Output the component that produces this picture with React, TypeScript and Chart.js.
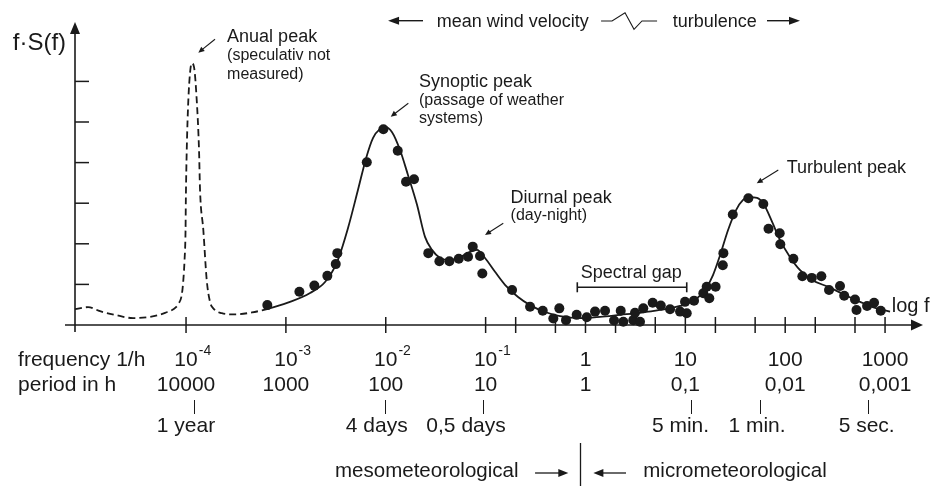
import React, { useEffect, useRef } from "react";
import { Chart, registerables } from "chart.js";

Chart.register(...registerables);

// ---------- data (x = log10 of frequency in 1/h, y = f·S(f) in tick units) ----------
const dashedLogF = [-5.112, -4.981, -4.861, -4.711, -4.531, -4.361, -4.21, -4.1, -4.077, -4.043, -4.027, -4.015, -4.005, -4.002, -3.993, -3.977, -3.96, -3.943, -3.92, -3.893, -3.87, -3.86, -3.827, -3.793, -3.76, -3.727, -3.642, -3.509, -3.339, -3.189];
const dashedLevel = [0.39, 0.44, 0.34, 0.25, 0.17, 0.2, 0.3, 0.44, 0.52, 0.74, 1.11, 1.6, 2.34, 3.08, 4.31, 5.54, 6.21, 6.45, 6.35, 5.54, 4.31, 3.33, 2.34, 1.11, 0.57, 0.41, 0.29, 0.26, 0.31, 0.39];

const fitLogF = [-3.189, -2.959, -2.758, -2.608, -2.488, -2.378, -2.278, -2.197, -2.127, -2.057, -2.007, -1.937, -1.857, -1.777, -1.687, -1.607, -1.537, -1.456, -1.356, -1.256, -1.156, -1.086, -1.006, -0.906, -0.806, -0.675, -0.555, -0.405, -0.255, -0.054, 0.146, 0.346, 0.546, 0.746, 0.947, 1.097, 1.197, 1.277, 1.348, 1.428, 1.508, 1.578, 1.638, 1.718, 1.788, 1.869, 1.949, 2.049, 2.149, 2.269, 2.429, 2.599, 2.75, 2.9, 3.05];
const fitLevel = [0.39, 0.57, 0.79, 1.06, 1.55, 2.39, 3.33, 4.11, 4.61, 4.83, 4.88, 4.75, 4.31, 3.69, 2.96, 2.17, 1.85, 1.65, 1.6, 1.67, 1.8, 1.85, 1.65, 1.31, 0.99, 0.69, 0.49, 0.32, 0.22, 0.17, 0.2, 0.25, 0.3, 0.37, 0.47, 0.62, 0.86, 1.23, 1.72, 2.34, 2.83, 3.08, 3.15, 3.13, 2.96, 2.54, 2.09, 1.67, 1.35, 1.11, 0.94, 0.74, 0.57, 0.42, 0.33];

const measuredLogF = [-3.186, -2.865, -2.715, -2.585, -2.501, -2.485, -2.19, -2.024, -1.88, -1.797, -1.717, -1.574, -1.463, -1.363, -1.269, -1.176, -1.129, -1.056, -1.033, -0.735, -0.555, -0.428, -0.322, -0.262, -0.195, -0.088, 0.013, 0.096, 0.196, 0.286, 0.353, 0.379, 0.479, 0.496, 0.546, 0.579, 0.673, 0.754, 0.847, 0.947, 0.997, 1.014, 1.087, 1.18, 1.214, 1.24, 1.303, 1.375, 1.381, 1.475, 1.631, 1.781, 1.833, 1.945, 1.951, 2.082, 2.172, 2.266, 2.362, 2.439, 2.549, 2.591, 2.699, 2.714, 2.82, 2.89, 2.957];
const measuredLevel = [0.49, 0.82, 0.97, 1.21, 1.5, 1.77, 4.01, 4.82, 4.29, 3.53, 3.59, 1.77, 1.57, 1.57, 1.63, 1.68, 1.93, 1.7, 1.27, 0.86, 0.45, 0.35, 0.16, 0.41, 0.12, 0.25, 0.19, 0.33, 0.35, 0.11, 0.35, 0.08, 0.12, 0.3, 0.08, 0.41, 0.55, 0.48, 0.39, 0.33, 0.57, 0.29, 0.6, 0.78, 0.94, 0.66, 0.94, 1.47, 1.77, 2.72, 3.12, 2.98, 2.37, 2.26, 1.99, 1.63, 1.2, 1.16, 1.2, 0.86, 0.96, 0.72, 0.63, 0.37, 0.47, 0.55, 0.35];

// ---------- axes / tick labels ----------
const X_MIN = -5.112;
const X_MAX = 3.38;
const Y_MAX = 7.463;
const xTickLogF = [-4, -3, -2, -1, -0.699, -0.301, 0, 0.301, 0.699, 1, 1.301, 1.699, 2, 2.301, 2.699, 3];
const yTickLevels = [1, 2, 3, 4, 5, 6];
const decadeLogF = [-4, -3, -2, -1, 0, 1, 2, 3];
const freqBase = ["10", "10", "10", "10", "1", "10", "100", "1000"];
const freqExp = ["-4", "-3", "-2", "-1", "", "", "", ""];
const periodLabels = ["10000", "1000", "100", "10", "1", "0,1", "0,01", "0,001"];
const markerTickLogF = [-3.917, -2.007, -1.029, 1.054, 1.748, 2.833];
const markerLabelLogF = [-4.0, -2.09, -1.196, 0.952, 1.718, 2.816];
const markerLabels = ["1 year", "4 days", "0,5 days", "5 min.", "1 min.", "5 sec."];

const INK = "#1a1a1a";
const FONT = '"Liberation Sans", Arial, Helvetica, sans-serif';

const notes = [
  { x: -3.589, y: 6.978, title: "Anual peak", sub: ["(speculativ not", "measured)"], gap: 18.5, arrow: [-3.71, 7.037, -3.877, 6.707] },
  { x: -1.667, y: 5.87, title: "Synoptic peak", sub: ["(passage of weather", "systems)"], gap: 18.2, arrow: [-1.774, 5.461, -1.95, 5.131] },
  { x: -0.75, y: 3.005, title: "Diurnal peak", sub: ["(day-night)"], gap: 17, arrow: [-0.823, 2.505, -1.006, 2.217] },
  { x: 2.015, y: 3.736, title: "Turbulent peak", sub: [] as string[], gap: 0, arrow: [1.931, 3.818, 1.715, 3.49] },
];

function head(ctx: CanvasRenderingContext2D, tx: number, ty: number, ang: number, len: number, half: number) {
  const c = Math.cos(ang), s = Math.sin(ang);
  ctx.beginPath();
  ctx.moveTo(tx, ty);
  ctx.lineTo(tx - len * c - half * s, ty - len * s + half * c);
  ctx.lineTo(tx - len * c + half * s, ty - len * s - half * c);
  ctx.closePath();
  ctx.fill();
}

function arrow(ctx: CanvasRenderingContext2D, fx: number, fy: number, tx: number, ty: number, len: number, half: number) {
  const ang = Math.atan2(ty - fy, tx - fx);
  ctx.beginPath();
  ctx.moveTo(fx, fy);
  ctx.lineTo(tx - Math.cos(ang) * len * 0.6, ty - Math.sin(ang) * len * 0.6);
  ctx.stroke();
  head(ctx, tx, ty, ang, len, half);
}

function seg(ctx: CanvasRenderingContext2D, a: number, b: number, c: number, d: number) {
  ctx.beginPath();
  ctx.moveTo(a, b);
  ctx.lineTo(c, d);
  ctx.stroke();
}

const decorPlugin = {
  id: "decor",
  beforeDatasetsDraw(chart: any) {
    const { ctx, scales } = chart;
    const X = (v: number) => scales.x.getPixelForValue(v);
    const Y = (v: number) => scales.y.getPixelForValue(v);
    const y0 = Y(0);
    const x0 = X(X_MIN);
    ctx.save();
    ctx.strokeStyle = INK;
    ctx.fillStyle = INK;
    ctx.lineWidth = 1.6;
    // x axis with arrow
    seg(ctx, x0 - 10, y0, X(X_MAX) - 8, y0);
    head(ctx, X(X_MAX), y0, 0, 12, 5.5);
    // y axis with arrow
    seg(ctx, x0, y0 + 7, x0, Y(Y_MAX) + 8);
    head(ctx, x0, Y(Y_MAX), -Math.PI / 2, 12, 5);
    ctx.lineWidth = 1.5;
    for (const t of xTickLogF) {
      const px = X(t);
      seg(ctx, px, y0 - 8, px, y0 + 8);
    }
    for (const t of yTickLevels) {
      const py = Y(t);
      seg(ctx, x0, py, x0 + 14, py);
    }
    ctx.restore();
  },
  afterDatasetsDraw(chart: any) {
    const { ctx, scales } = chart;
    const X = (v: number) => scales.x.getPixelForValue(v);
    const Y = (v: number) => scales.y.getPixelForValue(v);
    const y0 = Y(0);
    const f = (s: number) => `${s}px ${FONT}`;
    ctx.save();
    ctx.fillStyle = INK;
    ctx.strokeStyle = INK;
    ctx.textBaseline = "alphabetic";
    ctx.textAlign = "left";

    // y-axis title
    ctx.font = f(24);
    ctx.fillText("f\u00B7S(f)", X(-5.735), Y(6.773));

    // peak annotations
    ctx.lineWidth = 1.1;
    for (const n of notes) {
      const px = X(n.x), py = Y(n.y);
      ctx.font = f(18);
      ctx.fillText(n.title, px, py);
      ctx.font = f(16);
      n.sub.forEach((s, i) => ctx.fillText(s, px, py + n.gap * (i + 1)));
      arrow(ctx, X(n.arrow[0]), Y(n.arrow[1]), X(n.arrow[2]), Y(n.arrow[3]), 6, 2.8);
    }

    // spectral gap
    ctx.font = f(18);
    ctx.fillText("Spectral gap", X(-0.047), Y(1.158));
    ctx.lineWidth = 1.6;
    const gy = Y(0.929);
    seg(ctx, X(-0.082), gy, X(1.014), gy);
    seg(ctx, X(-0.082), gy - 5, X(-0.082), gy + 5);
    seg(ctx, X(1.014), gy - 5, X(1.014), gy + 5);

    // log f
    ctx.font = f(20);
    ctx.fillText("log f", X(3.067), Y(0.32));

    // header
    ctx.font = f(18);
    const hy = Y(7.495);
    ctx.lineWidth = 1.4;
    arrow(ctx, X(-1.627), hy, X(-1.977), hy, 11, 4);
    ctx.fillText("mean wind velocity", X(-1.489), Y(7.34));
    ctx.lineWidth = 1.1;
    ctx.beginPath();
    ctx.moveTo(X(0.156), Y(7.488));
    ctx.lineTo(X(0.266), Y(7.488));
    ctx.lineTo(X(0.396), Y(7.692));
    ctx.lineTo(X(0.486), Y(7.283));
    ctx.lineTo(X(0.566), Y(7.488));
    ctx.lineTo(X(0.717), Y(7.488));
    ctx.stroke();
    ctx.fillText("turbulence", X(0.874), Y(7.34));
    ctx.lineWidth = 1.4;
    arrow(ctx, X(1.818), hy, X(2.148), hy, 11, 4);

    // bottom rows
    const labelX = X(-5.682);
    ctx.font = f(21);
    ctx.fillText("frequency 1/h", labelX, y0 + 41);
    ctx.fillText("period in h", labelX, y0 + 66);
    ctx.textAlign = "center";
    decadeLogF.forEach((d, i) => {
      const px = X(d);
      ctx.font = f(21);
      ctx.fillText(freqBase[i], px, y0 + 41);
      ctx.fillText(periodLabels[i], px, y0 + 66);
      if (freqExp[i]) {
        const w = ctx.measureText(freqBase[i]).width;
        ctx.font = f(14);
        ctx.textAlign = "left";
        ctx.fillText(freqExp[i], px + w / 2 + 1, y0 + 30);
        ctx.textAlign = "center";
      }
    });
    ctx.lineWidth = 1;
    markerTickLogF.forEach((t) => {
      const px = Math.round(X(t)) + 0.5;
      seg(ctx, px, y0 + 75, px, y0 + 89);
    });
    ctx.font = f(21);
    markerLabels.forEach((s, i) => ctx.fillText(s, X(markerLabelLogF[i]), y0 + 107));

    // meso / micro
    ctx.textAlign = "left";
    ctx.font = f(20.5);
    ctx.fillText("mesometeorological", X(-2.508), y0 + 152);
    ctx.fillText("micrometeorological", X(0.579), y0 + 152);
    ctx.lineWidth = 1.3;
    arrow(ctx, X(-0.505), y0 + 148, X(-0.172), y0 + 148, 10, 4);
    arrow(ctx, X(0.406), y0 + 148, X(0.079), y0 + 148, 10, 4);
    const dx = Math.round(X(-0.055)) + 0.5;
    seg(ctx, dx, y0 + 118, dx, y0 + 161);

    ctx.restore();
  },
};

export default function App() {
  const ref = useRef<HTMLCanvasElement>(null);
  useEffect(() => {
    document.body.style.margin = "0";
    const canvas = ref.current;
    if (!canvas) return;
    const toPts = (xs: number[], ys: number[]) => xs.map((x, i) => ({ x, y: ys[i] }));
    const chart = new Chart(canvas, {
      type: "scatter",
      data: {
        datasets: [
          {
            label: "measured",
            data: toPts(measuredLogF, measuredLevel),
            showLine: false,
            pointRadius: 5,
            pointBackgroundColor: INK,
            pointBorderWidth: 0,
            backgroundColor: INK,
            borderColor: INK,
            clip: false,
            order: 0,
          } as any,
          {
            label: "fit",
            data: toPts(fitLogF, fitLevel),
            showLine: true,
            pointRadius: 0,
            borderColor: INK,
            borderWidth: 1.8,
            cubicInterpolationMode: "monotone",
            fill: false,
            clip: false,
            order: 1,
          } as any,
          {
            label: "annual (speculative)",
            data: toPts(dashedLogF, dashedLevel),
            showLine: true,
            pointRadius: 0,
            borderColor: INK,
            borderWidth: 1.8,
            borderDash: [7, 4],
            cubicInterpolationMode: "monotone",
            fill: false,
            clip: false,
            order: 2,
          } as any,
        ],
      },
      options: {
        responsive: false,
        animation: false,
        devicePixelRatio: 1,
        events: [],
        layout: { padding: { left: 75, right: 12, top: 22, bottom: 161 } },
        plugins: { legend: { display: false }, tooltip: { enabled: false }, title: { display: false } },
        scales: {
          x: { type: "linear", min: X_MIN, max: X_MAX, display: false },
          y: { type: "linear", min: 0, max: Y_MAX, display: false },
        },
      },
      plugins: [decorPlugin],
    });
    return () => chart.destroy();
  }, []);
  return (
    <div style={{ width: 935, height: 486, background: "#fff" }}>
      <canvas ref={ref} width={935} height={486} style={{ display: "block", width: 935, height: 486 }} />
    </div>
  );
}
